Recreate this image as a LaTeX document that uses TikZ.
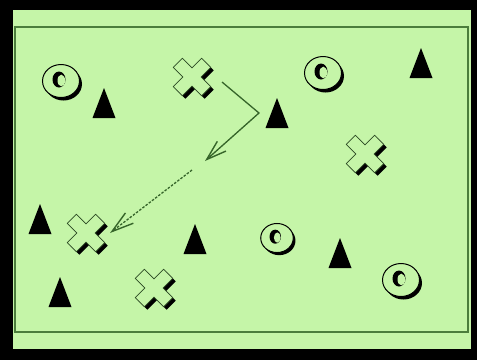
\documentclass[tikz,border=0pt]{standalone}
\usetikzlibrary{arrows.meta}
\definecolor{field}{HTML}{C5F5A8}
\definecolor{lineg}{HTML}{4B7D3C}
\definecolor{arrg}{HTML}{36652A}
\tikzset{
  ringpic/.pic={
    \fill[black] (2.5,3) ellipse [x radius=18.5pt, y radius=16.5pt];
    \filldraw[fill=field, draw=black, line width=1pt] (0,0) ellipse [x radius=18.5pt, y radius=16.5pt];
    \fill[black] (-2,-1.5) ellipse [x radius=6.5pt, y radius=8pt];
    \fill[field] (0.3,-0.5) ellipse [x radius=3.8pt, y radius=5.8pt];
  },
  crosspic/.pic={
    \begin{scope}[shift={(3,3)},rotate=45]
      \fill[black] (-6.5,-20) -- (6.5,-20) -- (6.5,-6.5) -- (20,-6.5) -- (20,6.5) -- (6.5,6.5) -- (6.5,20) -- (-6.5,20) -- (-6.5,6.5) -- (-20,6.5) -- (-20,-6.5) -- (-6.5,-6.5) -- cycle;
    \end{scope}
    \begin{scope}[rotate=45]
      \filldraw[fill=field, draw=lineg!60!black, line width=0.7pt] (-6.5,-20) -- (6.5,-20) -- (6.5,-6.5) -- (20,-6.5) -- (20,6.5) -- (6.5,6.5) -- (6.5,20) -- (-6.5,20) -- (-6.5,6.5) -- (-20,6.5) -- (-20,-6.5) -- (-6.5,-6.5) -- cycle;
    \end{scope}
  },
  tripic/.pic={
    \fill[black] (0,-15) -- (11.5,15) -- (-11.5,15) -- cycle;
  },
  movearrow/.style={draw=arrg, line width=1.3pt, -{Straight Barb[length=20pt,width=13pt,line width=1.4pt]}},
  dasharrow/.style={draw=arrg, line width=1.3pt, dash pattern=on 2.5pt off 1.5pt, -{Straight Barb[length=22pt,width=13pt,line width=1.4pt]}}
}
\begin{document}
\begin{tikzpicture}[x=1pt,y=-1pt]
\useasboundingbox (0,0) rectangle (477,360);
% frame
\fill[black] (0,0) rectangle (477,360);
\fill[field] (13,10) rectangle (471,349);
\draw[lineg, line width=1.3pt] (15,27) rectangle (468,332);
% rings
\pic (o1) at (61,81) {ringpic};
\pic (o2) at (323,73) {ringpic};
\pic[scale=0.88] (o3) at (277,238) {ringpic};
\pic (o4) at (401,280) {ringpic};
% crosses
\pic (x1) at (192,77) {crosspic};
\pic (x2) at (365,154) {crosspic};
\pic (x3) at (86,233) {crosspic};
\pic (x4) at (154,288) {crosspic};
% triangles
\pic (t1) at (104,103) {tripic};
\pic (t2) at (421,63) {tripic};
\pic (t3) at (277,113) {tripic};
\pic (t4) at (40,219) {tripic};
\pic (t5) at (195,239) {tripic};
\pic (t6) at (340,253) {tripic};
\pic (t7) at (60,292) {tripic};
% arrows
\coordinate (a0) at (222,82);
\coordinate (a1) at (259,113);
\coordinate (a2) at (205,161);
\coordinate (b0) at (192,170);
\coordinate (b1) at (110,233);
\draw[movearrow] (a0) -- (a1) -- (a2);
\draw[dasharrow] (b0) -- (b1);
\end{tikzpicture}
\end{document}
